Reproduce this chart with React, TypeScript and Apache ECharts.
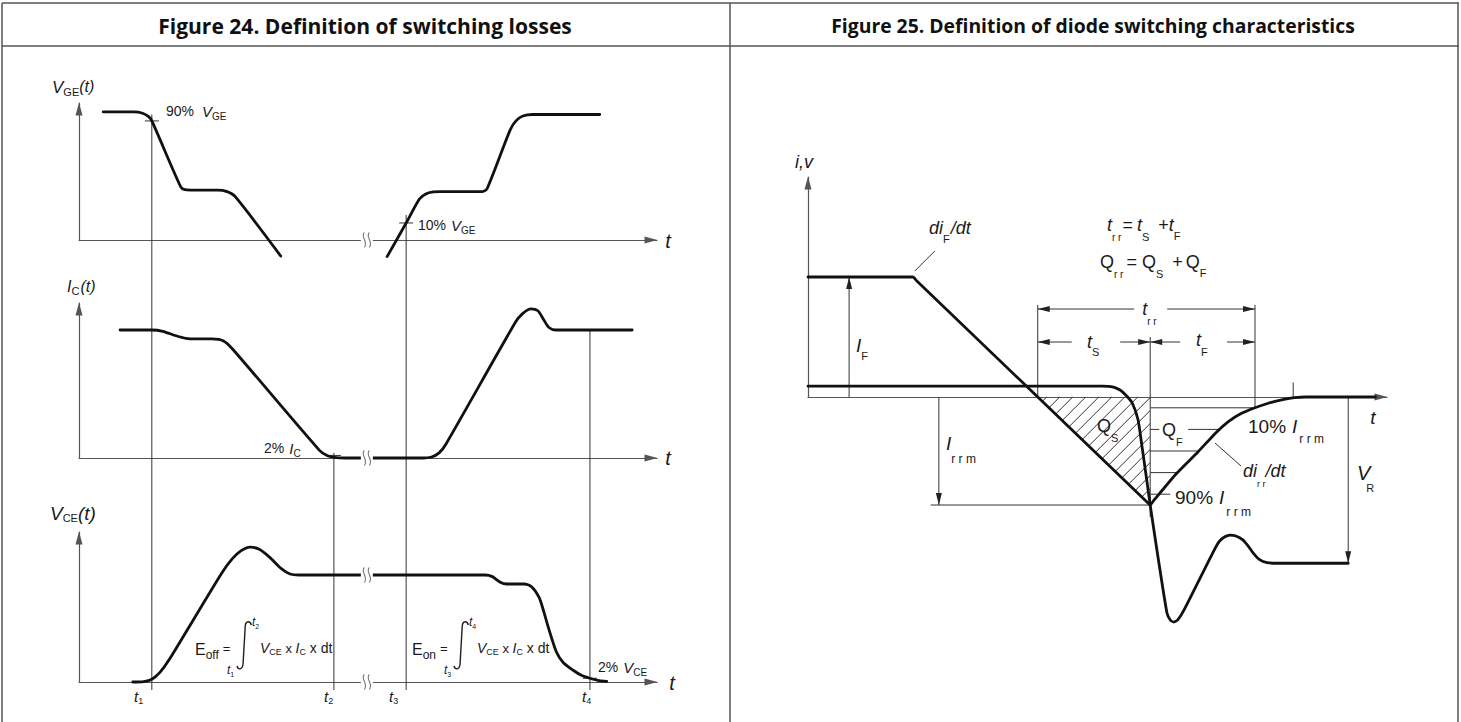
import React, { useEffect, useRef } from "react";
import * as echarts from "echarts";

const FONT = '"Liberation Sans", Arial, Helvetica, sans-serif';
const TITLE_FONT = '"Open Sans", "Noto Sans", sans-serif';
const INK = "#111";
const THIN = "#333";

const panelTitles = [
  "Figure 24. Definition of switching losses",
  "Figure 25. Definition of diode switching characteristics",
];
const titleCenters = [365, 1093];
const titleWidths = [414, 524];

// ---------- Figure 24 (time: 0..100 along the axis, level: % of steady value) ----------
const vgeTurnOff = [
  [4.2, 100], [9.5, 100], [11, 99], [12, 96.5], [12.6, 93], [17.6, 41.5], [18.3, 39.3],
  [19.3, 39], [24, 39], [25.5, 38], [27, 34], [34.9, -12.5],
];
const vgeTurnOn = [
  [53.3, -13], [56.6, 13.3], [58.9, 32], [60, 36], [61.3, 37.5], [62.5, 37.8], [69.8, 37.8],
  [70.6, 40], [74.6, 86], [75.6, 93], [76.8, 96.8], [78.5, 98], [90.1, 98],
];
const icTurnOff = [
  [7.1, 100], [12.6, 100], [14.5, 99], [16.8, 95.5], [18.5, 93.5], [20, 93], [23, 93],
  [25, 91.5], [26.6, 85], [41.6, 6], [43, 1.8], [44.5, 0.3], [46, 0], [49.8, 0],
];
const icTurnOn = [
  [49.8, 0], [59.5, 0], [61, 0.8], [62.3, 4], [63.5, 11], [75.5, 106], [76.8, 113],
  [78.2, 116.5], [79.4, 115], [80.4, 108], [81.3, 102], [82.5, 100], [95.7, 100],
];
const vceTurnOff = [
  [9.3, 0], [11.2, 0.4], [12.6, 2.5], [14, 9], [15.5, 20], [24.6, 101], [26.5, 115],
  [28, 122.5], [29.6, 126], [31.2, 124], [33, 116.5], [35, 106], [36.5, 101], [38, 100],
  [49.8, 100],
];
const vceTurnOn = [
  [49.8, 100], [70.3, 100], [71.5, 98.5], [72.8, 93.5], [74, 91.6], [77, 91.6], [78.3, 89],
  [79.6, 79], [80.4, 66], [81.2, 51], [82.6, 28], [83.8, 18], [85.5, 11], [87, 6],
  [88.4, 3.5], [90, 1.2], [91.3, 0.5],
];
const switchTimes = [12.6, 44.1, 56.6, 88.4]; // t1..t4
const switchTimeLabels = ["1", "2", "3", "4"];
const switchLineTopGrid = [0, 1, 0, 1];
const switchLineTopLevel = [98, 4, 19.5, 100];
const switchMarkGrid = [0, 1, 0, 2];
const switchMarkLevel = [93, 2, 13.3, 3.5];
const axisBreakTime = 49.8;

// ---------- Figure 25 (time 0..100, i/v in % of I_F) ----------
const diodeCurrent = [
  [0, 100], [17.4, 100], [18.1, 100], [18.8, 96.7], [58.5, -87.2], [59.1, -90], [59.6, -87],
  [63.6, -64], [67.3, -46], [70.5, -29.5], [72.6, -20.5], [74.8, -13.8], [77.2, -9],
  [79.5, -5.2], [81.8, -2.3], [84, -0.6], [86, 0], [98, 0],
];
const diodeVoltage = [
  [0, 9], [50.8, 9], [52.6, 8.5], [53.9, 5.8], [55, 1], [56, -5], [57, -19], [57.7, -41.7],
  [58.5, -69], [59.1, -90], [60.5, -135], [62, -180], [62.6, -186], [63.2, -187.5],
  [63.9, -185.5], [65, -177], [70, -129], [71, -120.5], [72, -116.5], [72.9, -115],
  [73.9, -115.8], [75.1, -119], [76, -124], [76.9, -130], [78, -135.5], [79.3, -138],
  [81, -138.5], [93.3, -138.5],
];
const qfLevels = [10, 30, 50, 70, 90]; // % of I_rrm
const ifArrowTime = 7.1;
const irrmArrowTime = 22.6;
const irrmLineStart = 21.2;
const vrArrowTime = 93.3;
const trrDimLevel = 73.3;
const tsDimLevel = 45.8;
const dimTopLevel = 76.7;
const smallTickTime = 83.8;

const grids = [
  { left: 79, top: 103, width: 578, height: 137 },
  { left: 79, top: 303, width: 578, height: 155 },
  { left: 79, top: 532, width: 578, height: 150 },
  { left: 808, top: 177, width: 579, height: 220 },
];
const yMax = [107, 121.1, 140.2, 183.3];

function crossT(pts: number[][], v: number, i0: number, i1: number) {
  for (let i = i0; i < i1; i++) {
    const [x0, y0] = pts[i];
    const [x1, y1] = pts[i + 1];
    if ((y0 - v) * (y1 - v) <= 0 && y0 !== y1) return x0 + ((x1 - x0) * (v - y0)) / (y1 - y0);
  }
  return pts[i1][0];
}

const cv = typeof document !== "undefined" ? document.createElement("canvas").getContext("2d") : null;
function measure(text: string, size: number, fam: string, italic = false, weight = "normal") {
  if (!cv) return text.length * size * 0.55;
  cv.font = `${italic ? "italic" : "normal"} ${weight} ${size}px ${fam}`;
  return cv.measureText(text).width;
}
type Part = { t: string; s: number; i?: boolean; dy?: number; dx?: number; w?: string; f?: string };
function rich(x: number, y: number, parts: Part[], fill = "#1a1a1a"): any[] {
  const out: any[] = [];
  let cx = x;
  for (const p of parts) {
    const fam = p.f || FONT;
    cx += p.dx || 0;
    const w = measure(p.t, p.s, fam, !!p.i, p.w || "normal");
    out.push({
      type: "text", x: cx, y: y + (p.dy || 0), z: 20, silent: true,
      style: {
        text: p.t, fontSize: p.s, fontFamily: fam, fontStyle: p.i ? "italic" : "normal",
        fontWeight: p.w || "normal", fill, align: "left", verticalAlign: "middle",
      },
    });
    cx += w;
  }
  return out;
}

export default function App() {
  const ref = useRef<HTMLDivElement>(null);
  useEffect(() => {
    const el = ref.current!;
    echarts.graphic.registerShape(
      "integral",
      echarts.graphic.extendPath("M13,4 C12,-0.5 8,-0.5 7.5,5 L5.5,43 C5,49 1,49 0,45", {}) as any
    );
    echarts.graphic.registerShape(
      "axisbreak",
      echarts.graphic.extendPath("M3,0 C-1.5,4.5 7.5,9 3,15 M8,0 C3.5,4.5 12.5,9 8,15", {}) as any
    );
    const chart = echarts.init(el, null, { renderer: "svg" });
    const axisLine = {
      show: true, symbol: ["none", "triangle"], symbolSize: [7, 13], symbolOffset: [0, -6],
      lineStyle: { color: "#555", width: 1.2 },
    };
    const hide = { axisTick: { show: false }, axisLabel: { show: false }, splitLine: { show: false } };
    const curve = (g: number, data: number[][], smooth = 0.25) => ({
      type: "line", xAxisIndex: g, yAxisIndex: g, data, symbol: "none", showSymbol: false,
      smooth, clip: false, silent: true, z: 3,
      lineStyle: { color: INK, width: 2.8, cap: "round", join: "round" },
    });
    chart.setOption({
      animation: false,
      backgroundColor: "#fff",
      grid: grids,
      xAxis: grids.map((_, g) => ({
        type: "value", gridIndex: g, min: 0, max: 100, axisLine: { ...axisLine, onZero: true }, ...hide,
      })),
      yAxis: grids.map((_, g) => ({
        type: "value", gridIndex: g, min: 0, max: yMax[g], axisLine: { ...axisLine, onZero: false }, ...hide,
      })),
      series: [
        curve(0, vgeTurnOff), curve(0, vgeTurnOn), curve(1, icTurnOff), curve(1, icTurnOn),
        curve(2, vceTurnOff), curve(2, vceTurnOn), curve(3, diodeCurrent, 0.2), curve(3, diodeVoltage, 0.2),
      ],
    });

    const P = (g: number, x: number, y: number): number[] =>
      chart.convertToPixel({ gridIndex: g } as any, [x, y]) as number[];
    const seg = (a: number[], b: number[], w = 1, c = THIN, z = 1) => ({
      type: "line", z, silent: true, shape: { x1: a[0], y1: a[1], x2: b[0], y2: b[1] },
      style: { stroke: c, lineWidth: w },
    });
    const head = (tip: number[], from: number[], len = 12, half = 3) => {
      const dx = tip[0] - from[0], dy = tip[1] - from[1];
      const L = Math.hypot(dx, dy) || 1;
      const ux = dx / L, uy = dy / L;
      const bx = tip[0] - ux * len, by = tip[1] - uy * len;
      return {
        type: "polygon", z: 6, silent: true,
        shape: { points: [[tip[0], tip[1]], [bx - uy * half, by + ux * half], [bx + uy * half, by - ux * half]] },
        style: { fill: "#222" },
      };
    };
    const arrow = (from: number[], tip: number[]) => [seg(from, tip), head(tip, from)];
    const g: any[] = [];

    // table frame and titles
    g.push(seg([2, 3], [1459, 3], 1.5, "#555"), seg([2, 46], [1459, 46], 1.5, "#555"));
    g.push(seg([2, 3], [2, 722], 1.5, "#555"), seg([730, 3], [730, 722], 1.5, "#555"), seg([1458, 3], [1458, 722], 1.5, "#555"));
    panelTitles.forEach((text, k) => {
      const size = (20 * titleWidths[k]) / measure(text, 20, TITLE_FONT, false, "bold");
      g.push({
        type: "text", x: titleCenters[k], y: 25, z: 20, silent: true,
        style: { text, fontFamily: TITLE_FONT, fontWeight: "bold", fontSize: size, fill: "#111", align: "center", verticalAlign: "middle" },
      });
    });

    // ---- Figure 24 annotations ----
    switchTimes.forEach((t, k) => {
      const top = P(switchLineTopGrid[k], t, switchLineTopLevel[k]);
      const bot = P(2, t, -7.5);
      g.push(seg(top, bot, 1, "#333"));
      const m = P(switchMarkGrid[k], t, switchMarkLevel[k]);
      g.push(seg([m[0] - 7, m[1]], [m[0] + 7, m[1]], 1, "#333"));
    });
    const tLabelX = [134, 324, 389, 582];
    switchTimes.forEach((_, k) =>
      g.push(...rich(tLabelX[k], 696, [{ t: "t", s: 15, i: true }, { t: switchTimeLabels[k], s: 9, dy: 5 }]))
    );
    [[0, 0], [1, 0], [2, 0], [2, 100]].forEach(([gi, v]) => {
      const p = P(gi, axisBreakTime, v);
      g.push({ type: "rect", z: 9, silent: true, shape: { x: p[0] - 6, y: p[1] - 5, width: 12, height: 10 }, style: { fill: "#fff" } });
      g.push({ type: "axisbreak", z: 10, silent: true, x: p[0] - 5.5, y: p[1] - 7.5, style: { stroke: "#777", fill: "none", lineWidth: 1.1 } });
    });
    // axis names
    [[668, 241], [668, 458], [672, 683]].forEach(([x, y]) =>
      g.push({ type: "text", x, y, z: 20, silent: true, style: { text: "t", fontFamily: FONT, fontStyle: "italic", fontSize: 20, fill: "#1a1a1a", align: "center", verticalAlign: "middle" } })
    );
    g.push(...rich(52, 87, [{ t: "V", s: 17, i: true }, { t: "GE", s: 11, dy: 5 }, { t: "(t)", s: 16, i: true, dy: -1 }]));
    g.push(...rich(166, 111, [{ t: "90%", s: 14 }, { t: "V", s: 15, i: true, dx: 8 }, { t: "GE", s: 10, dy: 5 }]));
    g.push(...rich(418, 225, [{ t: "10%", s: 14 }, { t: "V", s: 15, i: true, dx: 5 }, { t: "GE", s: 10, dy: 5 }]));
    g.push(...rich(67, 286, [{ t: "I", s: 16, i: true }, { t: "C", s: 11, dy: 5 }, { t: "(t)", s: 16, i: true, dx: 1 }]));
    g.push(...rich(264, 448, [{ t: "2%", s: 14 }, { t: "I", s: 15, i: true, dx: 5 }, { t: "C", s: 10, dy: 5 }]));
    g.push(...rich(50, 513, [{ t: "V", s: 19, i: true }, { t: "CE", s: 11, dy: 5 }, { t: "(t)", s: 19, i: true }]));
    g.push(...rich(598, 667, [{ t: "2%", s: 14 }, { t: "V", s: 15, i: true, dx: 5 }, { t: "CE", s: 10, dy: 5 }]));
    // energy formulas
    const formula = (x: number, sub: string, lo: string, hi: string) => {
      g.push(...rich(x, 649, [{ t: "E", s: 16 }, { t: sub, s: 12, dy: 6 }, { t: "=", s: 13, dx: 4, dy: -1 }]));
      g.push({ type: "integral", z: 10, silent: true, x: x + 42, y: 621, scaleX: 1.1, scaleY: 1, style: { stroke: "#222", fill: "none", lineWidth: 1.3 } });
      g.push(...rich(x + 57, 622, [{ t: "t", s: 12, i: true }, { t: hi, s: 7, dy: 4 }]));
      g.push(...rich(x + 32, 670, [{ t: "t", s: 12, i: true }, { t: lo, s: 7, dy: 4 }]));
      g.push(...rich(x + 65, 648, [
        { t: "V", s: 14, i: true }, { t: "CE", s: 9, dy: 4 }, { t: " x ", s: 13 }, { t: "I", s: 14, i: true },
        { t: "C", s: 9, dy: 4 }, { t: " x dt", s: 14 },
      ]));
    };
    formula(195, "off", "1", "2");
    formula(412, "on", "3", "4");

    // ---- Figure 25 annotations ----
    let minIdx = 0;
    diodeCurrent.forEach((p, i) => { if (p[1] < diodeCurrent[minIdx][1]) minIdx = i; });
    const tMin = diodeCurrent[minIdx][0];
    const vMin = diodeCurrent[minIdx][1];
    const last = diodeCurrent.length - 1;
    const zc = crossT(diodeCurrent, 0, 0, minIdx);
    const levelT = (pct: number) => crossT(diodeCurrent, (vMin * pct) / 100, minIdx, last);
    const tEnd = levelT(qfLevels[0]);

    // hatch of Q_S
    const tri = [P(3, zc, 0), P(3, tMin, 0), P(3, tMin, vMin)];
    const sums = tri.map((p) => p[0] + p[1]);
    const lo = Math.min(...sums), hi = Math.max(...sums);
    for (let c = lo + 9; c < hi; c += 13) {
      const pts: number[][] = [];
      for (let k = 0; k < 3; k++) {
        const a = tri[k], b = tri[(k + 1) % 3];
        const fa = a[0] + a[1] - c, fb = b[0] + b[1] - c;
        if (fa * fb < 0) {
          const s = fa / (fa - fb);
          pts.push([a[0] + (b[0] - a[0]) * s, a[1] + (b[1] - a[1]) * s]);
        }
      }
      if (pts.length === 2) g.push(seg(pts[0], pts[1], 1, "#333"));
    }
    // Q_F levels
    qfLevels.forEach((pct) => {
      const v = (vMin * pct) / 100;
      const a = P(3, tMin, v);
      const b = P(3, levelT(pct), v);
      if (pct === 30) {
        g.push(seg(a, [a[0] + 9, a[1]]), seg([a[0] + 38, a[1]], b));
      } else if (pct === 90) {
        g.push(seg(a, [a[0] + 20, a[1]]));
      } else g.push(seg(a, b));
    });
    // verticals
    g.push(seg(P(3, zc, 0), P(3, zc, dimTopLevel)));
    g.push(seg(P(3, tMin, 50), P(3, tMin, vMin - 10)));
    g.push(seg(P(3, tEnd, dimTopLevel), P(3, tEnd, (vMin * qfLevels[0]) / 100)));
    g.push(seg(P(3, smallTickTime, 0), P(3, smallTickTime, 12)));
    g.push(seg(P(3, irrmLineStart, vMin), P(3, tMin, vMin)));
    g.push(...arrow(P(3, ifArrowTime, 0), P(3, ifArrowTime, 100)));
    g.push(...arrow(P(3, irrmArrowTime, 0), P(3, irrmArrowTime, vMin)));
    g.push(...arrow(P(3, vrArrowTime, 0), P(3, vrArrowTime, diodeVoltage[diodeVoltage.length - 1][1])));
    // t_rr dimension
    {
      const a = P(3, zc, trrDimLevel), b = P(3, tEnd, trrDimLevel), m = P(3, tMin, trrDimLevel);
      g.push(...arrow([m[0] - 16, a[1]], a), ...arrow([m[0] + 17, b[1]], b));
      g.push(...rich(m[0] - 8, a[1], [{ t: "t", s: 18, i: true }, { t: "r r", s: 10, dy: 12 }]));
    }
    // t_S / t_F dimension
    {
      const a = P(3, zc, tsDimLevel), m = P(3, tMin, tsDimLevel), b = P(3, tEnd, tsDimLevel);
      g.push(...arrow([a[0] + 34, a[1]], a), ...arrow([m[0] - 30, m[1]], m));
      g.push(...arrow([m[0] + 30, m[1]], m), ...arrow([b[0] - 28, b[1]], b));
      g.push(...rich(1087, 342, [{ t: "t", s: 18, i: true }, { t: "S", s: 11, dy: 10 }]));
      g.push(...rich(1196, 340, [{ t: "t", s: 18, i: true }, { t: "F", s: 11, dy: 12 }]));
    }
    // leaders
    {
      const c = P(3, 18.1, 100);
      g.push(seg([c[0] + 2, c[1] - 6], [c[0] + 22, c[1] - 26]));
      g.push(seg([1215, 443], [1241, 466]));
    }
    g.push({ type: "text", x: 1373, y: 417, z: 20, silent: true, style: { text: "t", fontFamily: FONT, fontStyle: "italic", fontSize: 19, fill: "#1a1a1a", align: "center", verticalAlign: "middle" } });
    g.push(...rich(795, 162, [{ t: "i,v", s: 18, i: true }]));
    g.push(...rich(929, 228, [{ t: "di", s: 18, i: true }, { t: "F", s: 11, dy: 11 }, { t: "/dt", s: 18, i: true, dx: 1 }]));
    g.push(...rich(1107, 225, [
      { t: "t", s: 18, i: true }, { t: "r r", s: 10, dy: 12 }, { t: "=", s: 18, dx: 1 }, { t: "t", s: 18, i: true, dx: 4 },
      { t: "S", s: 11, dy: 12 }, { t: "+", s: 18, dx: 9 }, { t: "t", s: 18, i: true }, { t: "F", s: 11, dy: 11 },
    ]));
    g.push(...rich(1100, 262, [
      { t: "Q", s: 18 }, { t: "r r", s: 10, dy: 12 }, { t: "=", s: 18, dx: 3 }, { t: "Q", s: 18, dx: 5 },
      { t: "S", s: 11, dy: 12 }, { t: "+", s: 18, dx: 9 }, { t: "Q", s: 18, dx: 3 }, { t: "F", s: 11, dy: 11 },
    ]));
    g.push(...rich(856, 345, [{ t: "I", s: 19, i: true }, { t: "F", s: 11, dy: 11 }]));
    g.push(...rich(946, 443, [{ t: "I", s: 19, i: true }, { t: "r r m", s: 12, dy: 16 }]));
    g.push(...rich(1097, 426, [{ t: "Q", s: 18 }, { t: "S", s: 11, dy: 12 }]));
    g.push(...rich(1162, 430, [{ t: "Q", s: 18 }, { t: "F", s: 11, dy: 12 }]));
    g.push(...rich(1248, 426, [{ t: "10%", s: 19 }, { t: "I", s: 19, i: true, dx: 6 }, { t: "r r m", s: 12, dy: 13, dx: 2 }]));
    g.push(...rich(1243, 471, [{ t: "di", s: 18, i: true }, { t: "r r", s: 9, dy: 13 }, { t: "/dt", s: 18, i: true }]));
    g.push(...rich(1175, 497, [{ t: "90%", s: 19 }, { t: "I", s: 19, i: true, dx: 6 }, { t: "r r m", s: 12, dy: 15, dx: 2 }]));
    g.push(...rich(1357, 473, [{ t: "V", s: 20, i: true }, { t: "R", s: 11, dy: 15, dx: -4 }]));

    chart.setOption({ graphic: { elements: g } });
    return () => chart.dispose();
  }, []);
  return (
    <div
      ref={ref}
      style={{ position: "absolute", left: 0, top: 0, width: 1461, height: 722, background: "#fff" }}
    />
  );
}
